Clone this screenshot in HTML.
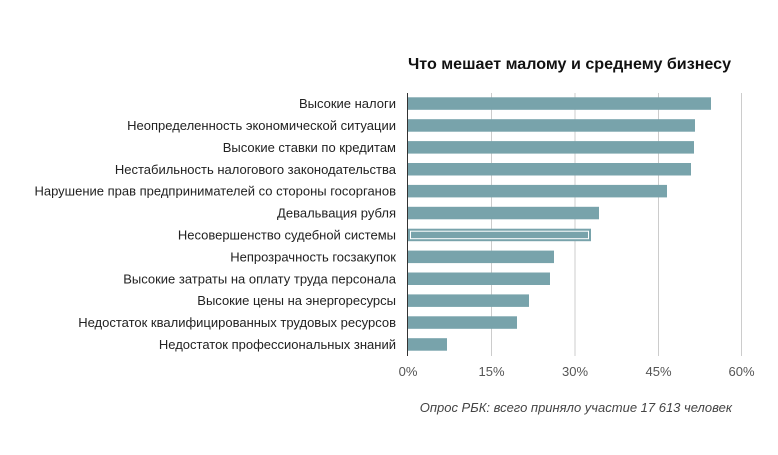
<!DOCTYPE html>
<html><head><meta charset="utf-8"><style>
body{margin:0;background:#fff;}
svg text{font-family:"Liberation Sans",sans-serif;}
</style></head><body>
<svg width="778" height="450" xmlns="http://www.w3.org/2000/svg">
<text x="408" y="69" font-size="16.1" font-weight="bold" fill="#111">Что мешает малому и среднему бизнесу</text>
<g stroke="#ccc" stroke-width="1">
<line x1="491.5" y1="93" x2="491.5" y2="356"/>
<line x1="575" y1="93" x2="575" y2="356"/>
<line x1="658.5" y1="93" x2="658.5" y2="356"/>
<line x1="741.5" y1="93" x2="741.5" y2="356"/>
</g>
<g fill="#78a3ab">
<rect x="408" y="97.3" width="303" height="12.5"/>
<rect x="408" y="119.2" width="287" height="12.5"/>
<rect x="408" y="141.1" width="286" height="12.5"/>
<rect x="408" y="163" width="283" height="12.5"/>
<rect x="408" y="184.9" width="259" height="12.5"/>
<rect x="408" y="206.8" width="191" height="12.5"/>
<rect x="408" y="228.7" width="183" height="12.5"/>
<rect x="408" y="250.6" width="146" height="12.5"/>
<rect x="408" y="272.5" width="142" height="12.5"/>
<rect x="408" y="294.4" width="121" height="12.5"/>
<rect x="408" y="316.3" width="109" height="12.5"/>
<rect x="408" y="338.2" width="39" height="12.5"/>
</g>
<rect x="410.5" y="231.2" width="178" height="7.5" fill="none" stroke="#fff" stroke-width="1"/>
<line x1="407.5" y1="93" x2="407.5" y2="356" stroke="#333" stroke-width="1"/>
<g font-size="13" fill="#222" text-anchor="end">
<text x="396" y="108">Высокие налоги</text>
<text x="396" y="130">Неопределенность экономической ситуации</text>
<text x="396" y="152">Высокие ставки по кредитам</text>
<text x="396" y="174">Нестабильность налогового законодательства</text>
<text x="396" y="195.5">Нарушение прав предпринимателей со стороны госорганов</text>
<text x="396" y="217.5">Девальвация рубля</text>
<text x="396" y="239.5">Несовершенство судебной системы</text>
<text x="396" y="261.5">Непрозрачность госзакупок</text>
<text x="396" y="283.5">Высокие затраты на оплату труда персонала</text>
<text x="396" y="305">Высокие цены на энергоресурсы</text>
<text x="396" y="327">Недостаток квалифицированных трудовых ресурсов</text>
<text x="396" y="349">Недостаток профессиональных знаний</text>
</g>
<g font-size="13" fill="#555" text-anchor="middle">
<text x="408" y="376">0%</text>
<text x="491.5" y="376">15%</text>
<text x="575" y="376">30%</text>
<text x="658.5" y="376">45%</text>
<text x="741.5" y="376">60%</text>
</g>
<text x="732" y="412" font-size="13" font-style="italic" fill="#444" text-anchor="end">Опрос РБК: всего приняло участие 17 613 человек</text>
</svg>
</body></html>
